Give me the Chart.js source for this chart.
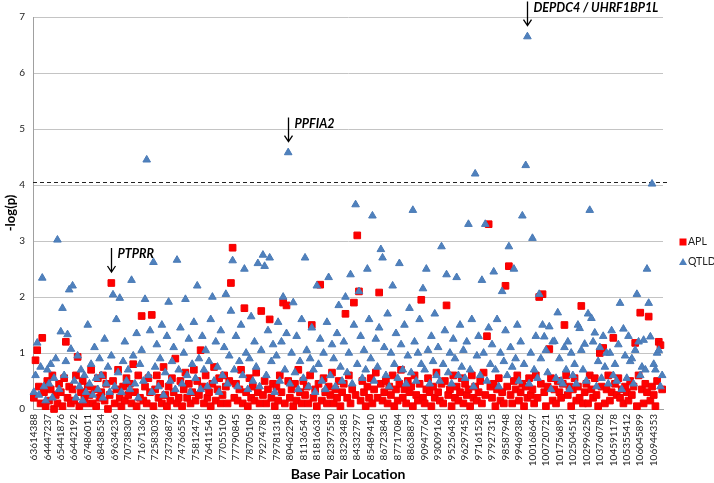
<!DOCTYPE html>
<html>
<head>
<meta charset="utf-8">
<script src="https://cdn.jsdelivr.net/npm/chart.js@4.4.1/dist/chart.umd.min.js"></script>
<style>
  html, body { margin: 0; padding: 0; background: #fff; }
  #wrap { width: 714px; height: 483px; }
</style>
</head>
<body>
<div id="wrap"><canvas id="myChart"></canvas></div>
<script>
// base pair location shown under every 8th SNP
var tickLabels = ['63614388','64447237','65441876','66442192','67486011','68438534','69634236','70738307',
  '71671362','72583039','73736872','74766556','75812476','76411545','77055109','77790845','78705109',
  '79274789','79781318','80462290','81136547','81816633','82397550','83293485','84332797','85489410',
  '86723845','87717084','88638873','90947764','93009163','95256435','96297453','97161528','97927315',
  '98587948','99469382','100168647','100720721','101756895','102504514','102996250','103760782',
  '104591178','105355412','106045899','106944353'];
var labelEvery = 8;

// -log(p), one value per SNP
var apl = [
  .2,.87,1.05,.4,.1,1.27,.3,.05,
  .5,.15,.35,.6,0,.25,.1,.45,
  .3,.05,.55,1.2,.2,.4,.1,.35,
  .15,.6,.93,.05,.3,.5,.2,.1,
  .4,.25,.7,.1,.35,.05,.55,.2,
  .3,.6,.15,.45,0,.25,2.25,.5,
  .1,.35,.7,.2,.05,.4,.15,.55,
  .25,.45,.1,.8,.3,.05,.6,.2,
  1.66,.15,.4,.1,.55,.3,1.68,.05,
  .35,.6,.2,.45,.1,.75,.25,.05,
  .4,.15,.55,.3,.9,.1,.2,.5,
  .05,.35,.65,.2,.45,.1,.3,.7,
  .15,.5,.25,1.05,.4,.1,.6,.2,
  .3,.05,.45,.75,.15,.35,.55,.1,
  .25,.6,.4,.1,.5,2.25,2.88,.2,
  .45,.15,.35,.7,.1,1.8,.3,.05,
  .55,.2,.4,.15,.65,.3,.1,1.75,
  .25,.5,.1,.35,1.6,.2,.45,.05,
  .4,.15,.6,.3,1.9,.1,1.85,.5,
  .2,.35,.05,.45,.15,.7,.3,.1,
  .5,.25,.4,.1,.6,1.5,.2,.35,
  .05,.45,2.22,.15,.55,.3,.1,.4,
  .25,.65,.1,.35,.2,.5,.05,.3,
  .45,1.7,.2,.6,.1,.35,1.9,.25,
  3.1,2.1,.15,.5,.3,.05,.4,.2,
  .55,.1,.35,.65,.2,2.08,.45,.15,
  .3,.5,.1,.4,.25,.6,.05,.35,
  .15,.45,.7,.2,.35,.1,.5,.3,
  .4,.05,.6,.25,.15,.45,1.95,.2,
  .1,.35,.55,.3,.05,.4,.2,.65,
  .3,.15,.45,.1,.5,1.85,.25,.35,
  .05,.6,.2,.4,.15,.3,.55,.1,
  .45,.25,.35,.05,.6,.2,.4,.15,
  .3,.5,.1,.65,.25,1.3,3.3,.4,
  .2,.45,.05,.35,.55,.15,.3,.1,
  2.2,.4,2.55,.25,.1,.5,.35,.6,
  .15,.3,.45,.05,.4,.2,.55,.25,
  .35,.1,.6,.2,2.0,.45,2.05,.3,
  .05,.4,1.07,.55,.15,.35,.1,.5,
  .3,.2,.45,1.5,.6,.25,.4,.05,
  .35,.55,.15,.4,.2,1.84,.1,.3,
  .45,.1,.6,.35,.2,.55,.25,.05,
  1.0,.4,1.09,.1,.35,.6,.15,.3,
  1.27,.45,.25,.55,.2,.35,.1,.4,
  .3,.15,.5,.25,.4,1.18,.05,.6,
  1.72,.35,.1,.45,.3,1.65,.15,.4,
  .25,.05,.5,1.2,1.14,.35
];
var qtld = [
  .3,.6,1.18,.25,.75,2.34,.4,.15,
  .7,.45,.8,.2,.55,.9,3.02,.35,
  1.38,1.8,.6,.85,1.33,2.13,1.07,2.2,
  .5,.2,.95,.4,.7,.15,.6,.3,
  1.5,.45,.8,.25,1.1,.55,.35,.9,
  .6,.2,1.25,.45,.75,.3,.95,2.04,
  .4,1.6,.65,1.98,.3,.85,1.2,.5,
  .7,.35,2.3,.95,.45,1.35,.2,.8,
  1.05,.5,1.96,4.45,.6,1.4,.3,2.62,
  .75,1.15,.4,.9,1.5,.25,.65,1.3,
  1.91,.5,.85,1.1,.35,2.66,.7,1.45,
  .45,1.0,1.96,.6,1.25,.3,.8,1.55,
  .55,2.2,.9,.35,1.3,.7,1.05,.4,
  .85,1.6,2.0,.5,1.2,.75,.3,1.4,
  .6,1.1,2.05,.45,.95,1.75,2.65,.7,
  1.3,.4,.85,1.5,.6,2.5,1.0,.35,
  .9,1.65,.5,1.2,.75,2.6,.4,1.05,
  2.75,2.55,.6,1.4,2.7,.85,1.15,.3,
  .95,1.55,.5,1.2,2.0,.7,1.35,4.58,
  .45,1.0,1.9,.65,1.3,.35,.85,1.6,
  .55,2.7,1.05,.4,.9,1.45,.7,.3,
  2.2,.8,1.25,.5,1.0,.35,1.55,2.35,
  .6,1.15,.9,.4,1.35,1.85,.75,.5,
  1.2,2.0,.65,1.0,2.4,.45,1.5,3.65,
  .8,2.1,1.3,.55,1.05,.7,2.5,1.6,
  .9,3.45,.5,1.25,.75,1.45,2.85,2.7,
  1.1,.6,1.7,.4,1.0,2.2,.8,1.35,
  .55,2.6,1.15,.7,1.5,.45,.95,1.8,
  .65,3.55,1.2,.5,1.0,1.6,.8,2.15,
  .7,2.5,1.05,.45,1.3,.85,1.7,.6,
  1.1,.5,2.9,.8,1.4,2.4,.65,1.0,
  .45,1.25,.9,2.35,.6,1.5,.75,1.05,
  .55,1.2,3.3,.7,1.6,.4,4.2,.95,
  1.3,.6,2.3,1.0,3.3,.5,1.45,.8,
  1.15,2.45,.7,1.6,.4,1.0,2.1,.85,
  1.4,.6,2.9,1.1,.75,2.5,.9,1.5,
  .5,1.2,3.45,.8,4.35,6.65,.45,1.0,
  3.05,.7,1.3,.55,2.05,.9,1.5,1.29,
  1.05,.65,1.47,.35,1.2,1.21,.55,1.72,
  .9,.5,.45,1.1,.7,1.2,.35,1.0,
  .6,.8,.45,1.5,1.44,1.05,.7,1.16,
  .5,1.7,3.55,1.62,1.2,1.36,.4,.85,
  1.1,.55,1.3,.75,1.0,.45,1.0,1.4,
  .6,.8,.5,1.15,1.89,.35,1.43,.95,
  .55,1.3,.85,.9,.45,1.05,2.05,1.2,
  .6,.75,1.23,.7,2.5,1.89,1.29,4.02,
  .8,.7,1.0,1.05,.4,.6
];
var cutoff = 4.05;
var genes = [
  { text: 'PTPRR', series: 0, index: 46 },
  { text: 'PPFIA2', series: 1, index: 151 },
  { text: 'DEPDC4 / UHRF1BP1L', series: 1, index: 293 }
];

var aplPts = apl.map(function (v, i) { return { x: i, y: v }; });
var qtldPts = qtld.map(function (v, i) { return { x: i, y: v }; });

var redFill = '#ff0000';
var blueFill = '#4f81bd';

// dashed cutoff line, arrows with gene names, and the legend
var extras = {
  id: 'extras',
  beforeDatasetsDraw: function (chart) {
    var a = chart.chartArea;
    var y = chart.scales.y.getPixelForValue(cutoff);
    var c = chart.ctx;
    c.save();
    c.strokeStyle = '#222';
    c.lineWidth = 1;
    c.setLineDash([4, 3]);
    c.beginPath();
    c.moveTo(a.left, Math.round(y) + 0.5);
    c.lineTo(a.right + 4, Math.round(y) + 0.5);
    c.stroke();
    c.restore();
  },
  afterDatasetsDraw: function (chart) {
    var c = chart.ctx;
    var xs = chart.scales.x, ys = chart.scales.y;
    c.save();
    genes.forEach(function (g) {
      var v = (g.series === 0 ? apl : qtld)[g.index];
      var px = Math.round(xs.getPixelForValue(g.index)) + 0.5;
      var py = ys.getPixelForValue(v);
      var top = py - 35, tip = py - 11;
      c.strokeStyle = '#000';
      c.lineWidth = 1.3;
      c.beginPath();
      c.moveTo(px, top);
      c.lineTo(px, tip);
      c.moveTo(px - 4, tip - 6);
      c.lineTo(px, tip);
      c.lineTo(px + 4, tip - 6);
      c.stroke();
      c.fillStyle = '#000';
      c.font = 'italic bold 12.5px Lato';
      c.textAlign = 'left';
      c.textBaseline = 'middle';
      c.fillText(g.text, px + 6, top + 6);
    });

    // legend to the right of the plot
    var lx = 683, ly = 242;
    c.fillStyle = redFill;
    c.fillRect(lx - 3.5, ly - 3.5, 7, 7);
    c.fillStyle = blueFill;
    c.beginPath();
    c.moveTo(lx, ly + 20 - 4);
    c.lineTo(lx + 4, ly + 20 + 3);
    c.lineTo(lx - 4, ly + 20 + 3);
    c.closePath();
    c.fill();
    c.fillStyle = '#222';
    c.font = '10.5px Lato';
    c.textAlign = 'left';
    c.textBaseline = 'middle';
    c.fillText('APL', lx + 5, ly);
    c.fillText('QTLD', lx + 5, ly + 20);
    c.restore();
  }
};

const ctx = document.getElementById('myChart');
new Chart(ctx, {
  type: 'scatter',
  data: {
    datasets: [
      {
        label: 'APL',
        data: aplPts,
        pointStyle: 'rect',
        pointRadius: 4.7,
        backgroundColor: redFill,
        borderColor: '#f00000',
        borderWidth: 1,
        order: 1,
        clip: false
      },
      {
        label: 'QTLD',
        data: qtldPts,
        pointStyle: 'triangle',
        pointRadius: 4.4,
        backgroundColor: blueFill,
        borderColor: '#4a7ab6',
        borderWidth: 1,
        order: 0,
        clip: false
      }
    ]
  },
  options: {
    responsive: true,
    maintainAspectRatio: false,
    animation: false,
    layout: { padding: { left: 0, right: 51, top: 17, bottom: 0 } },
    plugins: {
      legend: { display: false },
      tooltip: { enabled: false }
    },
    scales: {
      x: {
        type: 'linear',
        min: -0.5,
        max: apl.length - 0.5,
        afterBuildTicks: function (s) {
          s.ticks = tickLabels.map(function (t, j) { return { value: j * labelEvery }; });
        },
        afterFit: function (s) { s.height = 74; },
        ticks: {
          autoSkip: false,
          minRotation: 90,
          maxRotation: 90,
          padding: 5,
          color: '#222',
          font: { family: 'Lato', size: 10 },
          callback: function (v, i) { return tickLabels[i]; }
        },
        grid: { display: false, drawTicks: false },
        border: { color: '#a0a0a0', width: 1 },
        title: {
          display: true,
          text: 'Base Pair Location',
          color: '#000',
          font: { family: 'Lato', size: 14, weight: 'bold' },
          padding: { top: 0, bottom: 0 }
        }
      },
      y: {
        min: 0,
        max: 7,
        afterFit: function (s) { s.width = 33; },
        ticks: {
          stepSize: 1,
          padding: 8,
          color: '#222',
          font: { family: 'Lato', size: 10 }
        },
        grid: { color: '#c4c4c4', drawTicks: false },
        border: { color: '#a0a0a0', width: 1 },
        title: {
          display: true,
          text: '-log(p)',
          color: '#000',
          font: { family: 'Lato', size: 13, weight: 'bold' },
          padding: { top: 3, bottom: 0 }
        }
      }
    }
  },
  plugins: [extras]
});
</script>
</body>
</html>
